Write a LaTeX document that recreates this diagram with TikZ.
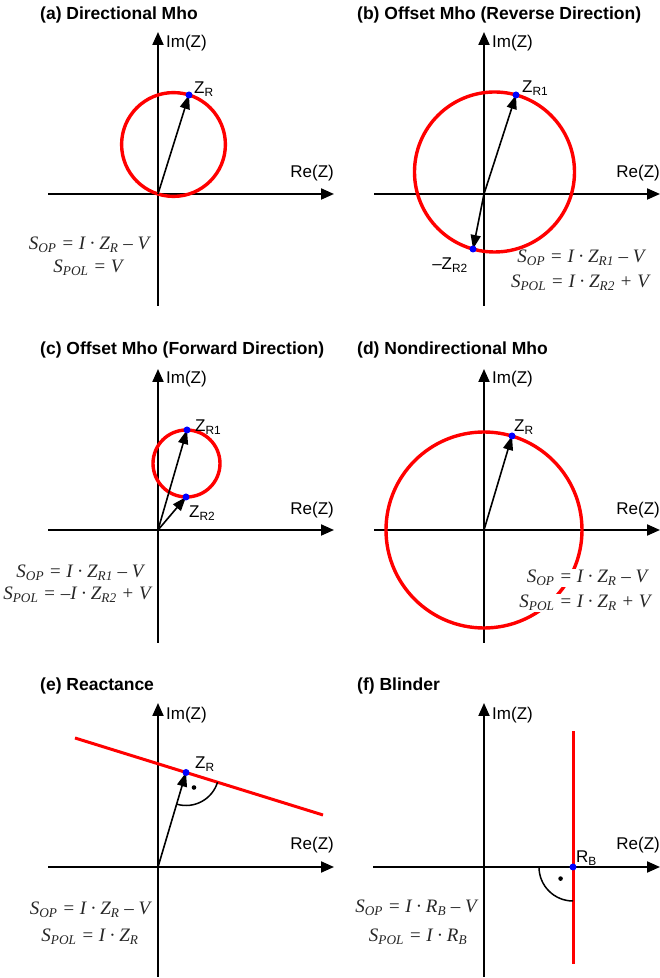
\documentclass[tikz,border=0pt]{standalone}
\usepackage{fontspec}
\setmainfont{Liberation Sans}
\newfontfamily\eqfont{Liberation Serif}
\newcommand\sbs[1]{\textsubscript{#1}}
\usetikzlibrary{arrows.meta}
\tikzset{
  axis/.style={line width=2pt, -{Triangle[length=13pt,width=11pt]}},
  vec/.style={line width=1.6pt, -{Triangle[length=14pt,width=10pt]}},
  zone/.style={draw=red, line width=3.4pt},
  pt/.style={circle, fill=blue, inner sep=0pt, minimum size=7pt},
  ttl/.style={anchor=west, inner sep=0pt, font=\bfseries\fontsize{17.5}{20}\selectfont},
  lbl/.style={inner sep=1pt, font=\fontsize{17}{20}\selectfont},
  eq/.style={inner sep=1pt, text=black!85, font=\eqfont\itshape\fontsize{19}{22}\selectfont},
  ang/.style={line width=1.5pt},
}
\begin{document}
\begin{tikzpicture}[x=1pt,y=1pt]
\useasboundingbox (0,0) rectangle (660,978);
% ---------------- (a)
\node[ttl] (ta) at (40,963) {(a) Directional Mho};
\coordinate (aO) at (158,784);
\coordinate (aB) at (158,672); \coordinate (aT) at (158,946);
\coordinate (aL) at (48,784);  \coordinate (aR) at (334,784);
\draw[axis] (aB) -- (aT);
\draw[axis] (aL) -- (aR);
\node[lbl,anchor=west] (aIm) at (165,935) {Im(Z)};
\node[lbl,anchor=east] (aRe) at (335,805) {Re(Z)};
\coordinate (aZ) at (189,883);
\coordinate (aC) at (173.5,833.5);
\draw[zone] (aC) circle[radius=51.9pt];
\draw[vec] (aO) -- (aZ);
\node[pt] (aZp) at (aZ) {};
\node[lbl,anchor=west] (aZl) at (193,889) {Z\textsubscript{R}};
\node[eq] (aS1) at (89,733) {S\sbs{OP} = I · Z\sbs{R} – V};
\node[eq] (aS2) at (88,710) {S\sbs{POL} = V};
% ---------------- (b)
\node[ttl] (tb) at (357,963) {(b) Offset Mho (Reverse Direction)};
\coordinate (bO) at (484,784);
\coordinate (bB) at (484,672); \coordinate (bT) at (484,946);
\coordinate (bL) at (374,784); \coordinate (bR) at (660,784);
\draw[axis] (bB) -- (bT);
\draw[axis] (bL) -- (bR);
\node[lbl,anchor=west] (bIm) at (491,935) {Im(Z)};
\node[lbl,anchor=east] (bRe) at (661,805) {Re(Z)};
\coordinate (bZ1) at (516,883);
\coordinate (bZ2) at (473,729);
\coordinate (bC) at (494.5,806);
\draw[zone] (bC) circle[radius=80pt];
\draw[vec] (bO) -- (bZ1);
\draw[vec] (bO) -- (bZ2);
\node[pt] (bZ1p) at (bZ1) {};
\node[pt] (bZ2p) at (bZ2) {};
\node[lbl,anchor=west] (bZ1l) at (521,890) {Z\textsubscript{R1}};
\node[lbl,anchor=east] (bZ2l) at (469,713) {--Z\textsubscript{R2}};
\node[eq] (bS1) at (581,720) {S\sbs{OP} = I · Z\sbs{R1} – V};
\node[eq] (bS2) at (580,695) {S\sbs{POL} = I · Z\sbs{R2} + V};
% ---------------- (c)
\node[ttl] (tc) at (40,628) {(c) Offset Mho (Forward Direction)};
\coordinate (cO) at (158,448);
\coordinate (cB) at (158,335); \coordinate (cT) at (158,609);
\coordinate (cL) at (48,448);  \coordinate (cR) at (334,448);
\draw[axis] (cB) -- (cT);
\draw[axis] (cL) -- (cR);
\node[lbl,anchor=west] (cIm) at (165,599) {Im(Z)};
\node[lbl,anchor=east] (cRe) at (335,468) {Re(Z)};
\coordinate (cZ1) at (187,548);
\coordinate (cZ2) at (186,481);
\coordinate (cC) at (186.5,514.5);
\draw[zone] (cC) circle[radius=33.5pt];
\draw[vec] (cO) -- (cZ1);
\draw[vec] (cO) -- (cZ2);
\node[pt] (cZ1p) at (cZ1) {};
\node[pt] (cZ2p) at (cZ2) {};
\node[lbl,anchor=west] (cZ1l) at (194,551) {Z\textsubscript{R1}};
\node[lbl,anchor=west] (cZ2l) at (188,465) {Z\textsubscript{R2}};
\node[eq] (cS1) at (80,405) {S\sbs{OP} = I · Z\sbs{R1} – V};
\node[eq] (cS2) at (77,383) {S\sbs{POL} = –I · Z\sbs{R2} + V};
% ---------------- (d)
\node[ttl] (td) at (357,628) {(d) Nondirectional Mho};
\coordinate (dO) at (484,448);
\coordinate (dB) at (484,335); \coordinate (dT) at (484,609);
\coordinate (dL) at (374,448); \coordinate (dR) at (660,448);
\draw[axis] (dB) -- (dT);
\draw[axis] (dL) -- (dR);
\node[lbl,anchor=west] (dIm) at (491,599) {Im(Z)};
\node[lbl,anchor=east] (dRe) at (661,468) {Re(Z)};
\coordinate (dZ) at (512,542);
\draw[zone] (dO) circle[radius=98pt];
\draw[vec] (dO) -- (dZ);
\node[pt] (dZp) at (dZ) {};
\node[lbl,anchor=west] (dZl) at (513,551) {Z\textsubscript{R}};
\node[eq,fill=white] (dS1) at (587,400) {S\sbs{OP} = I · Z\sbs{R} – V};
\node[eq,fill=white] (dS2) at (585,375) {S\sbs{POL} = I · Z\sbs{R} + V};
% ---------------- (e)
\node[ttl] (te) at (40,292) {(e) Reactance};
\coordinate (eO) at (158,111);
\coordinate (eB) at (158,1);   \coordinate (eT) at (158,275);
\coordinate (eL) at (48,111);  \coordinate (eR) at (334,111);
\draw[axis] (eB) -- (eT);
\draw[axis] (eL) -- (eR);
\node[lbl,anchor=west] (eIm) at (165,263) {Im(Z)};
\node[lbl,anchor=east] (eRe) at (335,133) {Re(Z)};
\coordinate (eP) at (75,240);
\coordinate (eQ) at (323,163);
\coordinate (eZ) at (186,205.5);
\draw[zone,line width=3pt] (eP) -- (eQ);
\coordinate (eA) at ([shift={(253.6:33pt)}]eZ);
\draw[ang] (eA) arc[start angle=253.6, end angle=342.8, radius=33pt];
\fill ([shift={(298:17pt)}]eZ) circle[radius=2.3pt];
\draw[vec] (eO) -- (eZ);
\node[pt] (eZp) at (eZ) {};
\node[lbl,anchor=west] (eZl) at (194,214) {Z\textsubscript{R}};
\node[eq] (eS1) at (90,68) {S\sbs{OP} = I · Z\sbs{R} – V};
\node[eq] (eS2) at (90,41) {S\sbs{POL} = I · Z\sbs{R}};
% ---------------- (f)
\node[ttl] (tf) at (357,292) {(f) Blinder};
\coordinate (fO) at (484,111);
\coordinate (fB) at (484,1);   \coordinate (fT) at (484,275);
\coordinate (fL) at (373,111); \coordinate (fR) at (660,111);
\draw[axis] (fB) -- (fT);
\draw[axis] (fL) -- (fR);
\node[lbl,anchor=west] (fIm) at (491,263) {Im(Z)};
\node[lbl,anchor=east] (fRe) at (661,133) {Re(Z)};
\coordinate (fP) at (573,14);
\coordinate (fQ) at (573,247);
\coordinate (fZ) at (573,111);
\draw[zone,line width=3pt] (fP) -- (fQ);
\coordinate (fA) at ([shift={(180:34pt)}]fZ);
\draw[ang] (fA) arc[start angle=180, end angle=270, radius=34pt];
\fill ([shift={(223:17pt)}]fZ) circle[radius=2.3pt];
\node[pt] (fZp) at (fZ) {};
\node[lbl,anchor=west] (fZl) at (575,120) {R\textsubscript{B}};
\node[eq] (fS1) at (416,70) {S\sbs{OP} = I · R\sbs{B} – V};
\node[eq] (fS2) at (418,41) {S\sbs{POL} = I · R\sbs{B}};
\end{tikzpicture}
\end{document}
